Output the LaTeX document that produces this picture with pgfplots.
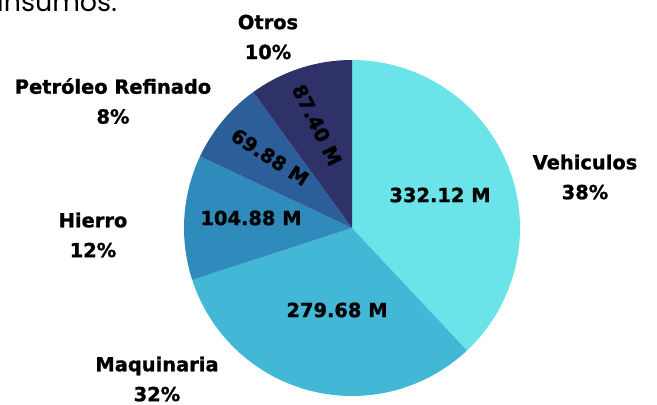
\documentclass[border=0pt]{standalone}
\usepackage{pgfplots}
\pgfplotsset{compat=1.18}
\usepackage{fontspec}
\setmainfont{DejaVu Sans}[BoldFeatures={FakeBold=1.2}]
\newfontfamily\popfont{Poppins}
\definecolor{cVeh}{HTML}{6AE4E8}
\definecolor{cMaq}{HTML}{43B7D6}
\definecolor{cHie}{HTML}{2E8BBB}
\definecolor{cPet}{HTML}{2C5F99}
\definecolor{cOtr}{HTML}{2F3269}
\newcommand{\lblfont}{\bfseries\fontsize{19.5}{30}\selectfont}
% values (millions)
\def\vVeh{332.12}
\def\vMaq{279.68}
\def\vHie{104.88}
\def\vPet{69.88}
\def\vOtr{87.40}
\begin{document}
\begin{tikzpicture}
\pgfmathsetmacro\tot{\vVeh+\vMaq+\vHie+\vPet+\vOtr}
\pgfmathsetmacro\aA{90}
\pgfmathsetmacro\aB{\aA-360*(\vVeh/\tot)}
\pgfmathsetmacro\aC{\aB-360*(\vMaq/\tot)}
\pgfmathsetmacro\aD{\aC-360*(\vHie/\tot)}
\pgfmathsetmacro\aE{\aD-360*(\vPet/\tot)}
\pgfmathsetmacro\aF{\aE-360*(\vOtr/\tot)}
\begin{axis}[
  scale only axis, width=657bp, height=405bp,
  xmin=0, xmax=657, ymin=0, ymax=405, y dir=reverse,
  hide axis, clip=false,
]
\addplot[fill=cVeh, draw=none, domain=\aB:\aA, samples=90] ({352+168*cos(x)},{228-168*sin(x)}) -- (axis cs:352,228) -- cycle;
\addplot[fill=cMaq, draw=none, domain=\aC:\aB, samples=90] ({352+168*cos(x)},{228-168*sin(x)}) -- (axis cs:352,228) -- cycle;
\addplot[fill=cHie, draw=none, domain=\aD:\aC, samples=40] ({352+168*cos(x)},{228-168*sin(x)}) -- (axis cs:352,228) -- cycle;
\addplot[fill=cPet, draw=none, domain=\aE:\aD, samples=30] ({352+168*cos(x)},{228-168*sin(x)}) -- (axis cs:352,228) -- cycle;
\addplot[fill=cOtr, draw=none, domain=\aF:\aE, samples=30] ({352+168*cos(x)},{228-168*sin(x)}) -- (axis cs:352,228) -- cycle;
% category labels
\node[font=\lblfont, align=center] at (axis cs:585,177) {Vehiculos\\38\%};
\node[font=\lblfont, align=center] at (axis cs:157,379) {Maquinaria\\32\%};
\node[font=\lblfont, align=center] at (axis cs:93,235) {Hierro\\12\%};
\node[font=\lblfont, align=center] at (axis cs:113,101) {Petróleo Refinado\\8\%};
\node[font=\lblfont, align=center] at (axis cs:268,37) {Otros\\10\%};
% value labels
\node[font=\lblfont] at (axis cs:440,195) {332.12 M};
\node[font=\lblfont] at (axis cs:337,310) {279.68 M};
\node[font=\lblfont] at (axis cs:251,218) {104.88 M};
\node[font=\lblfont, rotate=-33] at (axis cs:270,157) {69.88 M};
\node[font=\lblfont, rotate=-64] at (axis cs:317,125) {87.40 M};
% cut-off text at top
\node[overlay, anchor=base west, font=\popfont\fontsize{27}{27}\selectfont, inner sep=0pt] at (axis cs:-3,12) {insumos.};
\end{axis}
\pgfresetboundingbox
\path[use as bounding box] (current axis.south west) rectangle (current axis.north east);
\end{tikzpicture}
\end{document}
